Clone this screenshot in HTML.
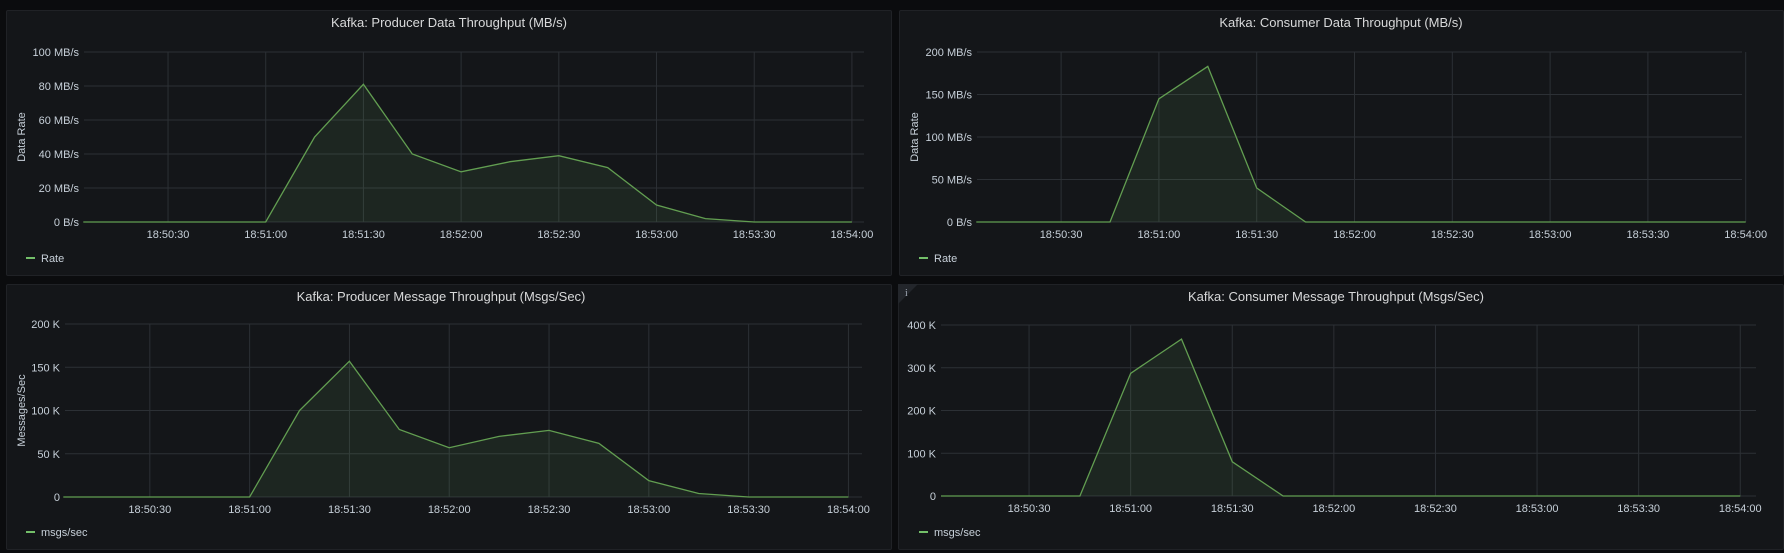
<!DOCTYPE html>
<html><head><meta charset="utf-8">
<style>
html,body{margin:0;padding:0;background:#0b0c0e;width:1784px;height:553px;overflow:hidden;font-family:"Liberation Sans",sans-serif}
.panel{position:absolute;background:#141619;border:1px solid #202226;border-radius:2px;box-sizing:border-box}
svg{position:absolute;left:0;top:0}
</style></head><body>
<div class="panel" style="left:6px;top:10px;width:886px;height:266px"></div>
<div class="panel" style="left:899px;top:10px;width:885px;height:266px"></div>
<div class="panel" style="left:6px;top:284px;width:886px;height:266px"></div>
<div class="panel" style="left:898px;top:284px;width:886px;height:266px"></div>
<svg id="chart" width="1784" height="553">
<polygon points="898,284 918,284 898,304" fill="#23262b"/>
<text x="905" y="296" fill="#9fa7b3" font-size="10" font-family="Liberation Serif">i</text>
</svg>
<script>
// times in seconds after 18:50:00
const tickTimes = [30,60,90,120,150,180,210,240];
const tickLabels = ["18:50:30","18:51:00","18:51:30","18:52:00","18:52:30","18:53:00","18:53:30","18:54:00"];
const pdTimes = [4,15,30,45,60,75,90,105,120,135,150,165,180,195,210,225,240];
const pdValues = [0,0,0,0,0,50,81,40,29.5,35.5,39,32,10,2,0,0,0];
const pdYTicks = [0,20,40,60,80,100];
const pdYLabels = ["0 B/s","20 MB/s","40 MB/s","60 MB/s","80 MB/s","100 MB/s"];
const cdTimes = [4,15,30,45,60,75,90,105,120,135,150,165,180,195,210,225,240];
const cdValues = [0,0,0,0,145,183,40,0,0,0,0,0,0,0,0,0,0];
const cdYTicks = [0,50,100,150,200];
const cdYLabels = ["0 B/s","50 MB/s","100 MB/s","150 MB/s","200 MB/s"];
const pmTimes = [4,15,30,45,60,75,90,105,120,135,150,165,180,195,210,225,240];
const pmValues = [0,0,0,0,0,100,157,78,57,70,77,62,19,4,0,0,0];
const pmYTicks = [0,50,100,150,200];
const pmYLabels = ["0","50 K","100 K","150 K","200 K"];
const cmTimes = [4,15,30,45,60,75,90,105,120,135,150,165,180,195,210,225,240];
const cmValues = [0,0,0,0,287,367,80,0,0,0,0,0,0,0,0,0,0];
const cmYTicks = [0,100,200,300,400];
const cmYLabels = ["0","100 K","200 K","300 K","400 K"];

const svg=document.getElementById('chart');
const NS='http://www.w3.org/2000/svg';
function mk(tag,attrs,parent){const e=document.createElementNS(NS,tag);for(const k in attrs)e.setAttribute(k,attrs[k]);(parent||svg).appendChild(e);return e;}

function drawChart(c){
  const g=mk('g',{});
  
  
  const x=t=>c.x0+(t-c.t0)*(c.x30/30);
  const ymax=c.yTicks[c.yTicks.length-1];
  const y=v=>c.yb-(v/ymax)*(c.yb-c.yt);
  const t=mk('text',{x:c.cx,y:c.ty,fill:'#d8d9da','font-size':13,'text-anchor':'middle'},g);
  t.textContent=c.title;
  
  
  c.yTicks.forEach((v,i)=>{
    const l=mk('line',{x1:c.x0,x2:c.xr,y1:y(v),y2:y(v),stroke:'#2c3035','stroke-width':1},g);
    
    
    const tx=mk('text',{x:c.x0-5,y:y(v)+4,fill:'#c7d0d9','font-size':11,'text-anchor':'end'},g);
    tx.textContent=c.yLabels[i];
    
    
  });
  tickTimes.forEach((tt,i)=>{
    const l=mk('line',{x1:x(tt),x2:x(tt),y1:c.yt,y2:c.yb,stroke:'#2c3035','stroke-width':1},g);
    
    
    const tx=mk('text',{x:x(tt),y:c.yb+16,fill:'#c7d0d9','font-size':11,'text-anchor':'middle'},g);
    tx.textContent=tickLabels[i];
    
    
  });
  const pts=c.times.map((tt,i)=>x(tt).toFixed(1)+','+y(c.values[i]).toFixed(1));
  const area=mk('polygon',{points:pts.join(' ')+' '+x(c.times[c.times.length-1])+','+c.yb+' '+x(c.times[0])+','+c.yb,fill:'#73bf69','fill-opacity':0.1},g);
  
  
  const line=mk('polyline',{points:pts.join(' '),fill:'none',stroke:'#629e51','stroke-width':1.3},g);
  
  
  if(c.ytitle){
    const yt=mk('text',{x:0,y:0,fill:'#c7d0d9','font-size':11,'text-anchor':'middle',transform:`translate(${c.ytx},${(c.yt+c.yb)/2}) rotate(-90)`},g);
    yt.textContent=c.ytitle;
    
    
  }
  const lg=mk('g',{},g);
  
  
  mk('line',{x1:c.lx,x2:c.lx+9,y1:c.ly,y2:c.ly,stroke:'#73bf69','stroke-width':2},lg);
  const lt=mk('text',{x:c.lx+15,y:c.ly+4,fill:'#c7d0d9','font-size':11},lg);
  lt.textContent=c.legend;
}
drawChart({name:'producer-data-chart',title:'Kafka: Producer Data Throughput (MB/s)',cx:449,ty:27,x0:84,xr:864,t0:4.2,x30:97.7,yt:52,yb:222,yTicks:pdYTicks,yLabels:pdYLabels,times:pdTimes,values:pdValues,ytitle:'Data Rate',ytx:25,lx:26,ly:258,legend:'Rate'});
drawChart({name:'consumer-data-chart',title:'Kafka: Consumer Data Throughput (MB/s)',cx:1341,ty:27,x0:977,xr:1742,t0:4.2,x30:97.8,yt:52,yb:222,yTicks:cdYTicks,yLabels:cdYLabels,times:cdTimes,values:cdValues,ytitle:'Data Rate',ytx:918,lx:919,ly:258,legend:'Rate'});
drawChart({name:'producer-msg-chart',title:'Kafka: Producer Message Throughput (Msgs/Sec)',cx:441,ty:301,x0:65,xr:862,t0:4.5,x30:99.8,yt:324,yb:497,yTicks:pmYTicks,yLabels:pmYLabels,times:pmTimes,values:pmValues,ytitle:'Messages/Sec',ytx:25,lx:26,ly:532,legend:'msgs/sec'});
drawChart({name:'consumer-msg-chart',title:'Kafka: Consumer Message Throughput (Msgs/Sec)',cx:1336,ty:301,x0:941,xr:1756,t0:4.0,x30:101.6,yt:325,yb:496,yTicks:cmYTicks,yLabels:cmYLabels,times:cmTimes,values:cmValues,ytitle:'',ytx:0,lx:919,ly:532,legend:'msgs/sec'});
</script>
</body></html>
